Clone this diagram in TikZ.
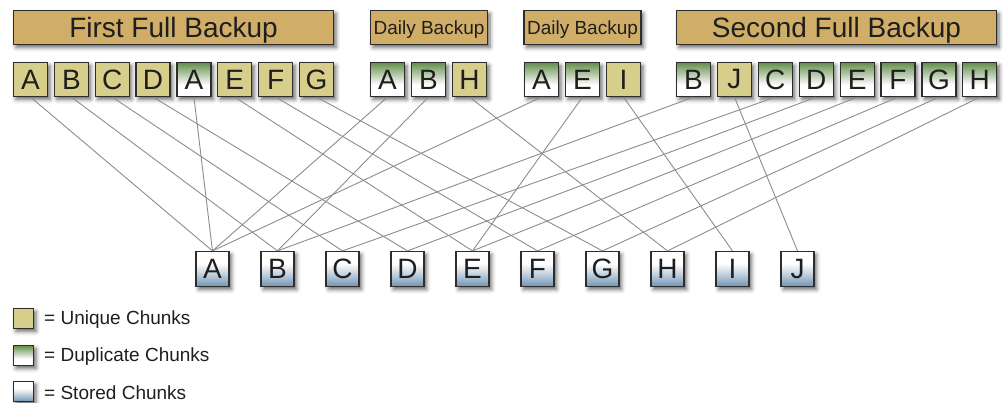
\documentclass[tikz,border=0pt]{standalone}
\usepackage{fontspec}
\setmainfont{Liberation Sans}
\usetikzlibrary{shadows.blur}
\definecolor{hdr}{RGB}{208,174,104}
\definecolor{uniq}{RGB}{214,206,138}
\definecolor{dupg}{RGB}{100,142,76}
\definecolor{stob}{RGB}{112,148,180}
\definecolor{edgec}{RGB}{45,45,45}
\definecolor{linkc}{RGB}{140,140,140}
\definecolor{txt}{RGB}{30,30,30}
\pgfdeclareverticalshading{dupshade}{100bp}{color(0bp)=(white); color(25bp)=(white); color(42bp)=(white); color(75bp)=(dupg); color(100bp)=(dupg)}
\pgfdeclareverticalshading{stoshade}{100bp}{color(0bp)=(stob); color(25bp)=(stob); color(44bp)=(stob!40!white); color(58bp)=(white); color(100bp)=(white)}
\tikzset{
  shad/.style={blur shadow={shadow xshift=2.5pt, shadow yshift=-3pt, shadow blur radius=4pt, shadow opacity=60}},
  chunk/.style={draw=edgec, line width=1.2pt, minimum width=34pt, minimum height=34pt, inner sep=0pt,
    text=txt, font=\fontsize{28}{28}\selectfont, shad},
  uq/.style={chunk, fill=uniq},
  dp/.style={chunk, shading=dupshade},
  st/.style={chunk, shading=stoshade, minimum width=33pt, minimum height=35pt},
  hdrbox/.style={draw=edgec, line width=1.2pt, fill=hdr, minimum height=34pt, inner sep=0pt,
    text=txt, text height=19pt, text depth=0pt, shad},
  bighdr/.style={hdrbox, minimum width=320pt, font=\fontsize{28}{28}\selectfont},
  smallhdr/.style={hdrbox, minimum width=117pt, font=\fontsize{19}{19}\selectfont, text height=13.5pt},
  lk/.style={draw=linkc, line width=0.9pt},
  legbox/.style={draw=edgec, line width=1.2pt, minimum width=20pt, minimum height=20pt, inner sep=0pt, shad},
  legtxt/.style={anchor=west, inner sep=0pt, text=txt, font=\fontsize{19}{19}\selectfont}
}
\begin{document}
\begin{tikzpicture}[x=1pt,y=-1pt]
\useasboundingbox (0,0) rectangle (1008,402);
% headers
\node[bighdr] (h1) at (173.5,27.5) {First Full Backup};
\node[smallhdr] (h2) at (429,27.5) {Daily Backup};
\node[smallhdr] (h3) at (582.5,27.5) {Daily Backup};
\node[bighdr] (h4) at (836.5,27.5) {Second Full Backup};
% first full backup chunks
\node[uq] (f1) at (30.5,79.5) {A};
\node[uq] (f2) at (71.35,79.5) {B};
\node[uq] (f3) at (112.2,79.5) {C};
\node[uq] (f4) at (153.05,79.5) {D};
\node[dp] (f5) at (193.9,79.5) {A};
\node[uq] (f6) at (234.75,79.5) {E};
\node[uq] (f7) at (275.6,79.5) {F};
\node[uq] (f8) at (316.45,79.5) {G};
% daily 1
\node[dp] (a1) at (387.5,79.5) {A};
\node[dp] (a2) at (428.5,79.5) {B};
\node[uq] (a3) at (469.5,79.5) {H};
% daily 2
\node[dp] (b1) at (541.5,79.5) {A};
\node[dp] (b2) at (582.5,79.5) {E};
\node[uq] (b3) at (623.5,79.5) {I};
% second full backup
\node[dp] (s1) at (693.5,79.5) {B};
\node[uq] (s2) at (734.4,79.5) {J};
\node[dp] (s3) at (775.3,79.5) {C};
\node[dp] (s4) at (816.2,79.5) {D};
\node[dp] (s5) at (857.1,79.5) {E};
\node[dp] (s6) at (898,79.5) {F};
\node[dp] (s7) at (938.9,79.5) {G};
\node[dp] (s8) at (979.8,79.5) {H};
% stored chunks
\node[st] (cA) at (212.5,269) {A};
\node[st] (cB) at (277.5,269) {B};
\node[st] (cC) at (342.5,269) {C};
\node[st] (cD) at (407.5,269) {D};
\node[st] (cE) at (472.5,269) {E};
\node[st] (cF) at (537.5,269) {F};
\node[st] (cG) at (602.5,269) {G};
\node[st] (cH) at (667.5,269) {H};
\node[st] (cI) at (732.5,269) {I};
\node[st] (cJ) at (797.5,269) {J};
% connectors
\draw[lk] (f1.south) -- (cA.north);
\draw[lk] (f2.south) -- (cB.north);
\draw[lk] (f3.south) -- (cC.north);
\draw[lk] (f4.south) -- (cD.north);
\draw[lk] (f5.south) -- (cA.north);
\draw[lk] (f6.south) -- (cE.north);
\draw[lk] (f7.south) -- (cF.north);
\draw[lk] (f8.south) -- (cG.north);
\draw[lk] (a1.south) -- (cA.north);
\draw[lk] (a2.south) -- (cB.north);
\draw[lk] (a3.south) -- (cH.north);
\draw[lk] (b1.south) -- (cA.north);
\draw[lk] (b2.south) -- (cE.north);
\draw[lk] (b3.south) -- (cI.north);
\draw[lk] (s1.south) -- (cB.north);
\draw[lk] (s2.south) -- (cJ.north);
\draw[lk] (s3.south) -- (cC.north);
\draw[lk] (s4.south) -- (cD.north);
\draw[lk] (s5.south) -- (cE.north);
\draw[lk] (s6.south) -- (cF.north);
\draw[lk] (s7.south) -- (cG.north);
\draw[lk] (s8.south) -- (cH.north);
% legend
\node[legbox, fill=uniq] (l1) at (23.5,318.5) {};
\node[legbox, shading=dupshade] (l2) at (23.5,355.5) {};
\node[legbox, shading=stoshade] (l3) at (23.5,391.5) {};
\node[legtxt] (t1) at (44,319.5) {= Unique Chunks};
\node[legtxt] (t2) at (44,356.5) {= Duplicate Chunks};
\node[legtxt] (t3) at (44,392.5) {= Stored Chunks};
\end{tikzpicture}
\end{document}
